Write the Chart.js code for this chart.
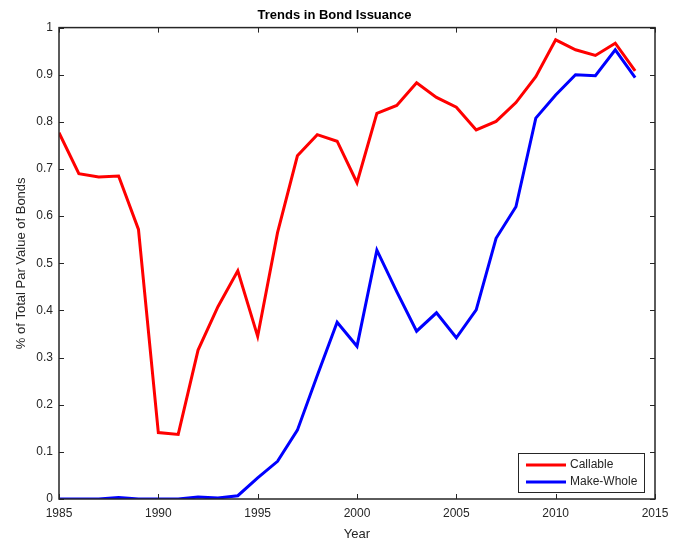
<!DOCTYPE html>
<html>
<head>
<meta charset="utf-8">
<script src="https://cdn.jsdelivr.net/npm/chart.js@4.4.1/dist/chart.umd.min.js"></script>
<style>
html,body{margin:0;padding:0;background:#fff;}
#wrap{width:683px;height:542px;}
</style>
</head>
<body>
<div id="wrap"><canvas id="c" width="683" height="542"></canvas></div>
<script>
const years = [1985,1986,1987,1988,1989,1990,1991,1992,1993,1994,1995,1996,1997,1998,1999,2000,2001,2002,2003,2004,2005,2006,2007,2008,2009,2010,2011,2012,2013,2014];
const callable = [0.777,0.690,0.683,0.685,0.572,0.141,0.137,0.316,0.408,0.484,0.345,0.565,0.728,0.773,0.759,0.671,0.818,0.835,0.883,0.852,0.831,0.783,0.801,0.841,0.896,0.974,0.953,0.941,0.967,0.908];
const makeWhole = [0.000,0.000,0.000,0.003,0.000,0.000,0.000,0.004,0.002,0.007,0.045,0.080,0.146,0.262,0.375,0.324,0.528,0.440,0.356,0.395,0.342,0.401,0.553,0.620,0.808,0.857,0.900,0.898,0.953,0.894];
const seriesNames = ['Callable','Make-Whole'];
const seriesColors = ['#ff0000','#0000ff'];
const xTicks = [1985,1990,1995,2000,2005,2010,2015];
const yTickLabels = ['0','0.1','0.2','0.3','0.4','0.5','0.6','0.7','0.8','0.9','1'];
const titleText = 'Trends in Bond Issuance';
const xTitle = 'Year';
const yTitle = '% of Total Par Value of Bonds';

const FONT = "'Liberation Sans', Arial, Helvetica, sans-serif";
const AXC = '#262626';

const boxTicks = {
  id: 'boxTicks',
  afterDatasetsDraw(chart) {
    const {ctx, chartArea: a, scales: {x, y}} = chart;
    ctx.save();
    ctx.strokeStyle = AXC;
    ctx.lineWidth = 1;
    const L = 5;
    ctx.beginPath();
    x.ticks.forEach(t => {
      const px = Math.round(x.getPixelForValue(t.value)) + 0.5;
      ctx.moveTo(px, a.bottom); ctx.lineTo(px, a.bottom - L);
      ctx.moveTo(px, a.top); ctx.lineTo(px, a.top + L);
    });
    y.ticks.forEach(t => {
      const py = Math.round(y.getPixelForValue(t.value)) + 0.5;
      ctx.moveTo(a.left, py); ctx.lineTo(a.left + L, py);
      ctx.moveTo(a.right, py); ctx.lineTo(a.right - L, py);
    });
    ctx.stroke();
    ctx.lineWidth = 1.5;
    ctx.strokeRect(a.left, a.top, a.right - a.left, a.bottom - a.top);
    // legend
    const lx = 518, ly = 453, lw = 126, lh = 39;
    ctx.fillStyle = '#fff';
    ctx.fillRect(lx, ly, lw, lh);
    ctx.lineWidth = 1;
    ctx.strokeStyle = AXC;
    ctx.strokeRect(lx + 0.5, ly + 0.5, lw, lh);
    chart.data.datasets.forEach((ds, i) => {
      const ry = ly + 12 + i * 17;
      ctx.strokeStyle = ds.borderColor;
      ctx.lineWidth = 3;
      ctx.beginPath();
      ctx.moveTo(lx + 8, ry); ctx.lineTo(lx + 48, ry);
      ctx.stroke();
      ctx.fillStyle = AXC;
      ctx.font = '12px ' + FONT;
      ctx.textBaseline = 'middle';
      ctx.textAlign = 'left';
      ctx.fillText(ds.label, lx + 52, ry);
    });
    ctx.restore();
  }
};

new Chart(document.getElementById('c'), {
  type: 'line',
  data: {
    datasets: [
      {label: seriesNames[0], data: years.map((yr, i) => ({x: yr, y: callable[i]})), borderColor: seriesColors[0], borderWidth: 3, pointRadius: 0, tension: 0, fill: false},
      {label: seriesNames[1], data: years.map((yr, i) => ({x: yr, y: makeWhole[i]})), borderColor: seriesColors[1], borderWidth: 3, pointRadius: 0, tension: 0, fill: false}
    ]
  },
  options: {
    responsive: false,
    animation: false,
    devicePixelRatio: 1,
    layout: {padding: {left: 14, right: 28, top: 2, bottom: 0}},
    plugins: {
      legend: {display: false},
      tooltip: {enabled: false},
      title: {display: true, text: titleText, color: '#000', font: {family: FONT, size: 13, weight: 'bold'}, padding: {top: 6, bottom: 4}}
    },
    scales: {
      x: {
        type: 'linear', min: 1985, max: 2015,
        afterBuildTicks: s => { s.ticks = xTicks.map(v => ({value: v})); },
        grid: {display: false, drawTicks: false},
        border: {display: false},
        ticks: {color: AXC, font: {family: FONT, size: 12}, padding: 7, maxRotation: 0, callback: v => String(v)},
        title: {display: true, text: xTitle, color: AXC, font: {family: FONT, size: 13}, padding: {top: 2, bottom: 0}},
        afterFit: s => { s.height = 43; }
      },
      y: {
        min: 0, max: 1,
        ticks: {stepSize: 0.1, color: AXC, font: {family: FONT, size: 12}, padding: 6,
                callback: (v, i) => yTickLabels[i]},
        grid: {display: false, drawTicks: false},
        border: {display: false},
        title: {display: true, text: yTitle, color: AXC, font: {family: FONT, size: 13}, padding: {top: 0, bottom: 4}},
        afterFit: s => { s.width = 45; }
      }
    }
  },
  plugins: [boxTicks]
});
</script>
</body>
</html>
